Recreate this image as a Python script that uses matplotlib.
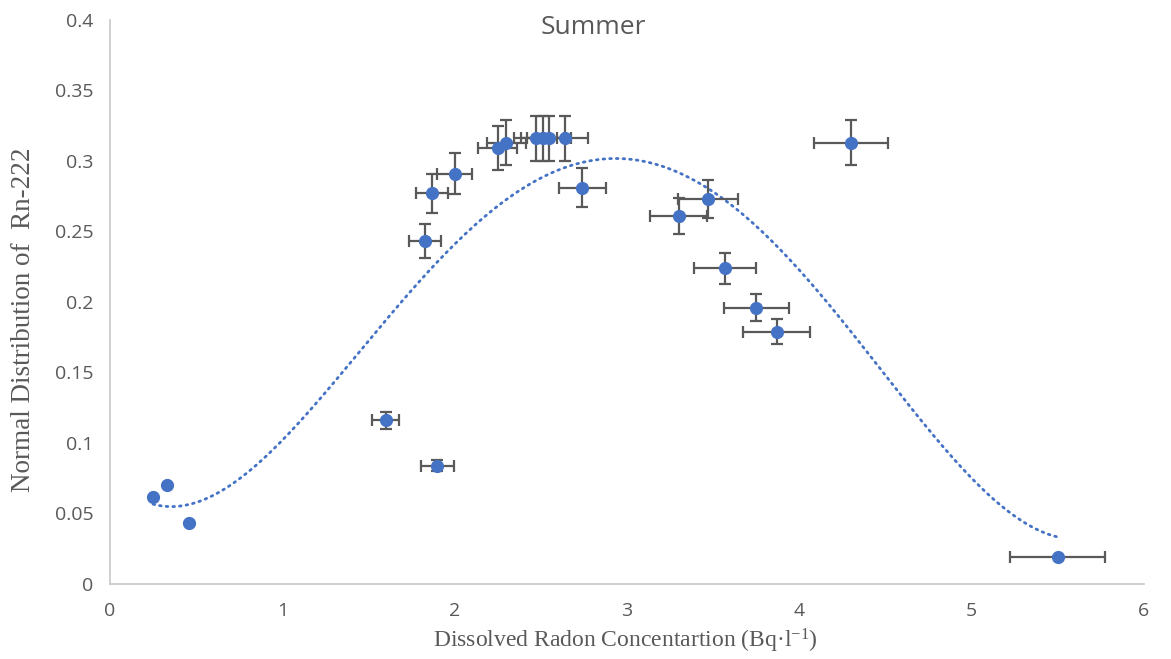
import numpy as np
import matplotlib
matplotlib.use("Agg")
import matplotlib.pyplot as plt

# Data
x_vals = [0.25, 0.33, 0.46, 1.60, 1.90, 1.83, 1.87, 2.00, 2.25, 2.30, 2.47, 2.51, 2.55, 2.64, 2.74, 3.30, 3.47, 3.57, 3.75, 3.87, 4.30, 5.50]
y_vals = [0.062, 0.070, 0.043, 0.116, 0.084, 0.243, 0.277, 0.291, 0.309, 0.313, 0.316, 0.316, 0.316, 0.316, 0.281, 0.261, 0.273, 0.224, 0.196, 0.179, 0.313, 0.019]
x_err = [0.0, 0.0, 0.0, 0.080, 0.095, 0.092, 0.094, 0.100, 0.113, 0.115, 0.124, 0.126, 0.128, 0.132, 0.137, 0.165, 0.174, 0.179, 0.188, 0.194, 0.215, 0.275]
y_err = [0.0, 0.0, 0.0, 0.006, 0.004, 0.012, 0.014, 0.0145, 0.0155, 0.0157, 0.0158, 0.0158, 0.0158, 0.0158, 0.014, 0.013, 0.0137, 0.011, 0.0098, 0.009, 0.0157, 0.0]

x_ticks = [0, 1, 2, 3, 4, 5, 6]
y_ticks = [0, 0.05, 0.1, 0.15, 0.2, 0.25, 0.3, 0.35, 0.4]
y_ticklabels = ["0", "0.05", "0.1", "0.15", "0.2", "0.25", "0.3", "0.35", "0.4"]

blue = "#4472C4"
gray = "#595959"

fig = plt.figure(figsize=(11.71, 6.59), dpi=100)
ax = fig.add_axes([0.0939, 0.1138, 0.883, 0.856])

# polynomial trendline (order 4), as in the spreadsheet
coef = np.polyfit(x_vals, y_vals, 4)
xs = np.linspace(min(x_vals), max(x_vals), 300)
ax.plot(xs, np.polyval(coef, xs), linestyle=(0, (0.6, 1.8)), color=blue, lw=2.0,
        dash_capstyle="round", zorder=2)

ax.errorbar(x_vals, y_vals, xerr=x_err, yerr=y_err, fmt="none", ecolor=gray,
            elinewidth=1.6, capsize=4, capthick=1.6, zorder=3)
ax.plot(x_vals, y_vals, "o", color=blue, markersize=9.5, zorder=4, markeredgewidth=0)

ax.set_xlim(0, 6)
ax.set_ylim(0, 0.4)
ax.set_xticks(x_ticks)
ax.set_yticks(y_ticks)
ax.set_yticklabels(y_ticklabels)
for s in ["top", "right"]:
    ax.spines[s].set_visible(False)
for s in ["left", "bottom"]:
    ax.spines[s].set_color("#c8c8c8")
    ax.spines[s].set_linewidth(1.2)
ax.tick_params(length=0, labelsize=14, labelcolor=gray)
ax.tick_params(axis="y", pad=12)
ax.tick_params(axis="x", pad=13)
for lab in ax.get_xticklabels() + ax.get_yticklabels():
    lab.set_fontfamily("Open Sans")

fig.text(0.507, 1 - 27 / 659, "Summer", fontsize=19, color=gray, fontfamily="Open Sans",
         ha="center", va="center")
fig.text(625.5 / 1171, 1 - 641 / 659, "Dissolved Radon Concentartion (Bq·l$\\mathregular{^{-1}}$)",
         fontsize=17, color=gray, fontfamily="Liberation Serif", ha="center", va="center")
fig.text(24 / 1171, 1 - 320 / 659, "Normal Distribution of  Rn-222", rotation=90,
         fontsize=19.5, color=gray, fontfamily="Liberation Serif", ha="center", va="center")

fig.savefig("out.png", dpi=100)
